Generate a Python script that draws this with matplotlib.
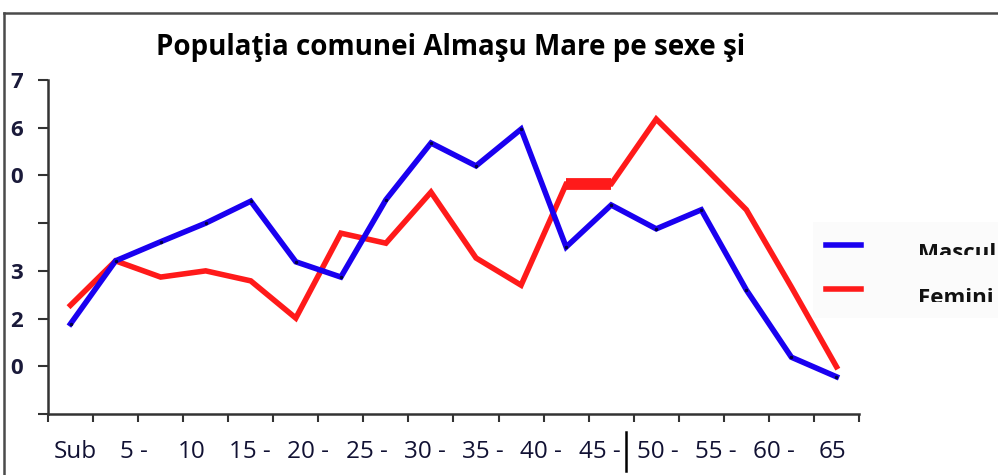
import numpy as np
import matplotlib
matplotlib.use("Agg")
import matplotlib.pyplot as plt
from matplotlib.patches import Rectangle
from matplotlib.transforms import Bbox, TransformedBbox

# age groups (18 categories on the x axis)
age_groups = ["Sub 5", "5 - 9", "10 - 14", "15 - 19", "20 - 24", "25 - 29",
              "30 - 34", "35 - 39", "40 - 44", "45 - 49", "50 - 54", "55 - 59",
              "60 - 64", "65 - 69", "70 - 74", "75 - 79", "80 - 84", "85+"]
# what is actually readable under the axis in the clipped original
visible_labels = ["Sub", "5 -", "10", "15 -", "20 -", "25 -", "30 -", "35 -",
                  "40 -", "45 -", "50 -", "55 -", "60 -", "65"]
y_tick_labels = ["", "0", "2", "3", "", "0", "6", "7"]

masculin = [1.89, 3.21, 3.61, 4.00, 4.46, 3.19, 2.87, 4.49, 5.68, 5.20,
            5.97, 3.50, 4.38, 3.88, 4.28, 2.60, 1.19, 0.78]
feminin = [2.28, 3.21, 2.87, 3.00, 2.79, 2.01, 3.79, 3.58, 4.65, 3.27,
           2.70, 4.82, 4.82, 6.18, 5.24, 4.28, 2.66, 0.99]

title = "Populaţia comunei Almaşu Mare pe sexe şi"
series_names = ["Mascul", "Femini"]

W, H = 998, 475
fig = plt.figure(figsize=(W / 100, H / 100), dpi=100)
fig.patch.set_facecolor("white")


def px(x0, y0, x1, y1):
    # pixel box (top-left origin) -> figure fraction rect
    return [x0 / W, 1 - y1 / H, (x1 - x0) / W, (y1 - y0) / H]


ax = fig.add_axes(px(48, 80, 859, 414))
ax.patch.set_alpha(0)
x = np.arange(len(age_groups))

blue = "#1a00f0"
red = "#ff1a1a"
ax.plot(x, masculin, color=blue, lw=4.0, solid_joinstyle="miter",
        marker="o", ms=1.5, mfc="#000044", mec="#000044", zorder=3)
ax.plot(x, feminin, color=red, lw=4.0, solid_joinstyle="miter", zorder=2)
# the thick red step between 40-44 and 45-49 in the original
ax.plot(x[11:13], feminin[11:13], color=red, lw=8.5,
        solid_capstyle="butt", zorder=2)

ax.set_xlim(-0.5, len(age_groups) - 0.5)
ax.set_ylim(0, 7)
ax.set_xticks(np.arange(-0.5, len(age_groups), 1))
ax.set_xticklabels([])
ax.set_yticks(np.arange(0, 8))
ax.set_yticklabels(y_tick_labels, fontsize=16, fontweight="bold",
                   color="#1a1a3a", family="Open Sans")
ax.tick_params(axis="y", direction="out", length=7, width=1.5, pad=11,
               color="#333333")
ax.tick_params(axis="x", direction="out", length=6, width=1.5,
               color="#333333")
for s in ["top", "right"]:
    ax.spines[s].set_visible(False)
for s in ["left", "bottom"]:
    ax.spines[s].set_linewidth(1.8)
    ax.spines[s].set_color("#333333")

# category texts, evenly spaced as they appear
label_pos = np.linspace(0.11, 16.91, len(visible_labels))
for lx, lab in zip(label_pos, visible_labels):
    ax.annotate(lab, xy=(lx, 0), xycoords=("data", "axes fraction"),
                xytext=(0, -27.5), textcoords="offset points",
                ha="center", va="center", fontsize=17.5,
                family="Open Sans", color="#111133", annotation_clip=False)

# title
fig.text(451 / W, 1 - 47 / H, title, ha="center", va="center",
         fontsize=20, fontweight="bold", family="Open Sans", color="black")

# outer chart border (clipped on the right and bottom)
fig.add_artist(plt.Line2D([4 / W, 4 / W], [0, 1 - 13 / H],
                          transform=fig.transFigure, color="#4a4a4a", lw=1.8))
fig.add_artist(plt.Line2D([4 / W, 1], [1 - 13 / H, 1 - 13 / H],
                          transform=fig.transFigure, color="#4a4a4a", lw=1.8))

# stray vertical line under the axis
fig.add_artist(plt.Line2D([626 / W, 626 / W], [1 - 471 / H, 1 - 432 / H],
                          transform=fig.transFigure, color="black", lw=1.8))

# legend (clipped in the original)
legend_bg = Rectangle((813 / W, 1 - 318 / H), (W - 813) / W, 96 / H,
                      transform=fig.transFigure, facecolor="#fbfbfb",
                      edgecolor="none", zorder=-1)
fig.patches.append(legend_bg)
legend_colors = [blue, red]
legend_rows = [(245, 259, 255), (289, 304, 302)]
for name, col, (ly, base, cut) in zip(series_names, legend_colors, legend_rows):
    fig.add_artist(plt.Line2D([826 / W, 861 / W], [1 - ly / H, 1 - ly / H],
                              transform=fig.transFigure, color=col, lw=4.0))
    t = fig.text(918 / W, 1 - base / H, name, ha="left", va="baseline",
                 fontsize=16, fontweight="bold", family="Open Sans",
                 color="#111111")
    box = Bbox.from_extents(900 / W, 1 - cut / H, 1.0, 1 - (cut - 40) / H)
    t.set_clip_box(TransformedBbox(box, fig.transFigure))
    t.set_clip_on(True)

fig.savefig("out.png", dpi=100)
